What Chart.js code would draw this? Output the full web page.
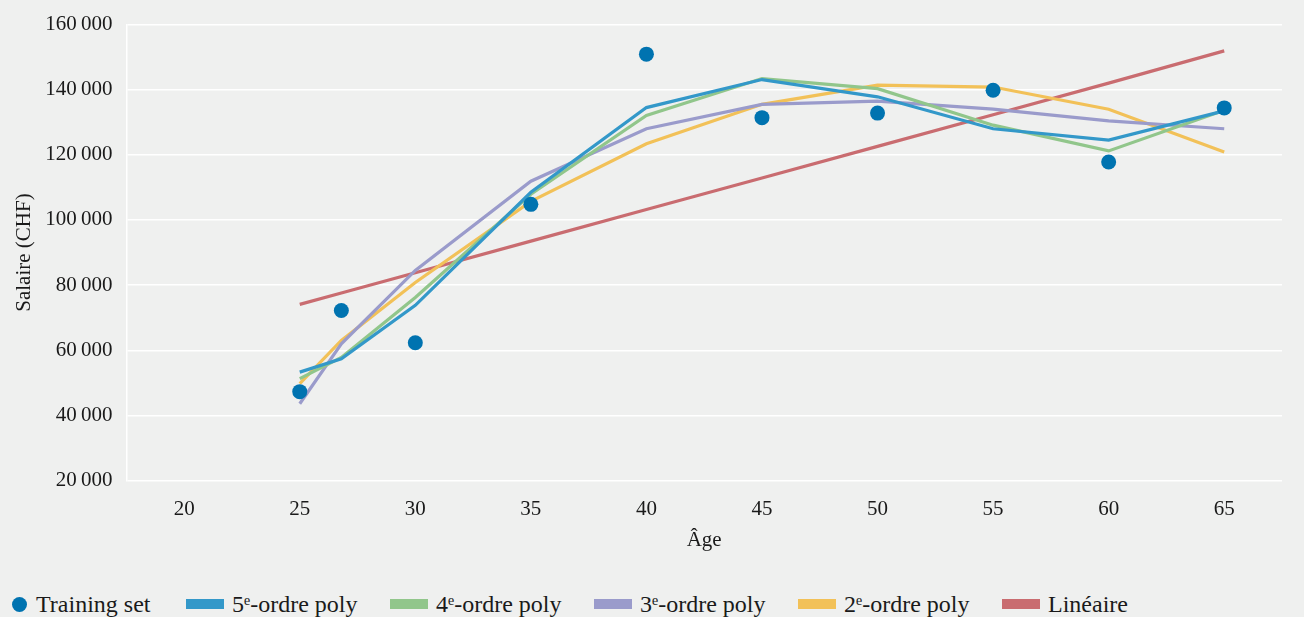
<!DOCTYPE html>
<html>
<head>
<meta charset="utf-8">
<script src="https://cdn.jsdelivr.net/npm/chart.js@4/dist/chart.umd.min.js"></script>
<style>
  body { margin: 0; background: #eff0ef; }
  #wrap { position: relative; width: 1304px; height: 617px; background: #eff0ef; font-family: 'Liberation Serif', serif; color: #1a1a1a; }
  #box { position: absolute; left: 0; top: 0; width: 1304px; height: 566px; }
  #legend { position: absolute; left: 0; top: 590px; width: 1304px; height: 28px; }
  .item { position: absolute; top: 0; height: 28px; display: flex; align-items: center; font-size: 24px; white-space: nowrap; }
  .mark { display: inline-block; margin-right: 8px; }
</style>
</head>
<body>
<div id="wrap">
  <div id="box"><canvas id="salaryChart"></canvas></div>
  <div id="legend"></div>
</div>
<script>
const ages = [25, 26.8, 30, 35, 40, 45, 50, 55, 60, 65];
const trainingSet = [47300, 72200, 62300, 104800, 150900, 131400, 132800, 139800, 117800, 134400];
const poly5 = [53300, 57400, 73800, 108500, 134500, 143100, 137800, 128000, 124500, 133500];
const poly4 = [51300, 57800, 76200, 107900, 132100, 143400, 140300, 129100, 121200, 133700];
const poly3 = [43600, 62000, 84500, 111900, 128000, 135500, 136500, 134000, 130400, 128000];
const poly2 = [49800, 63000, 80800, 105700, 123400, 135500, 141400, 140800, 134000, 120900];
const linear = [74100, 77600, 83800, 93500, 103200, 112900, 122600, 132300, 142000, 151900];
const xTicks = [20, 25, 30, 35, 40, 45, 50, 55, 60, 65];
const yTicks = [20000, 40000, 60000, 80000, 100000, 120000, 140000, 160000];

const labels = ['Training set', '5\u1D49-ordre poly', '4\u1D49-ordre poly', '3\u1D49-ordre poly', '2\u1D49-ordre poly', 'Lin\u00e9aire'];
const colors = ['#0073b0', '#3398c9', '#91c68b', '#9a9bcb', '#f2c158', '#c96c70'];
const series = [trainingSet, poly5, poly4, poly3, poly2, linear];

const toPoints = vals => ages.map((a, i) => ({ x: a, y: vals[i] }));
const fmt = v => String(v).replace(/\B(?=(\d{3})+(?!\d))/g, '\u2009');
const serif = "'Liberation Serif', serif";

const datasets = [];
// lines first in draw order, linear at the back, dots on top
for (let i = series.length - 1; i >= 1; i--) {
    datasets.push({
        label: labels[i],
        data: toPoints(series[i]),
        borderColor: colors[i],
        backgroundColor: colors[i],
        borderWidth: 3.2,
        pointRadius: 0,
        fill: false,
        tension: 0,
        order: i + 1
    });
}
datasets.push({
    label: labels[0],
    data: toPoints(series[0]),
    showLine: false,
    pointRadius: 7.5,
    pointBackgroundColor: colors[0],
    pointBorderWidth: 0,
    backgroundColor: colors[0],
    order: 0
});

const ctx = document.getElementById('salaryChart').getContext('2d');
new Chart(ctx, {
    type: 'line',
    data: { datasets: datasets },
    options: {
        responsive: true,
        maintainAspectRatio: false,
        animation: false,
        layout: { padding: { top: 12, right: 22, left: -4, bottom: 9 } },
        plugins: {
            legend: { display: false },
            tooltip: { enabled: false }
        },
        scales: {
            x: {
                type: 'linear',
                min: 17.5,
                max: 67.5,
                afterBuildTicks: axis => { axis.ticks = xTicks.map(v => ({ value: v })); },
                ticks: { color: '#1a1a1a', padding: 16, font: { family: serif, size: 21 } },
                grid: { display: false, drawTicks: false },
                border: { display: false },
                title: { display: true, text: '\u00c2ge', color: '#1a1a1a', padding: { top: -10, bottom: 4 }, font: { family: serif, size: 21 } }
            },
            y: {
                min: 20000,
                max: 160000,
                afterBuildTicks: axis => { axis.ticks = yTicks.map(v => ({ value: v })); },
                ticks: { color: '#1a1a1a', padding: 14, callback: v => fmt(v), font: { family: serif, size: 21, lineHeight: 1 } },
                grid: { color: '#ffffff', lineWidth: 1.5, drawTicks: false },
                border: { color: '#ffffff', width: 1.5 },
                title: { display: true, text: 'Salaire (CHF)', color: '#1a1a1a', padding: { top: 16, bottom: -6 }, font: { family: serif, size: 21 } }
            }
        }
    }
});

// legend
const legend = document.getElementById('legend');
labels.forEach((name, i) => {
    const item = document.createElement('div');
    item.className = 'item';
    item.style.left = (i === 0 ? 12 : 186 + 204 * (i - 1)) + 'px';
    const mark = document.createElement('span');
    mark.className = 'mark';
    if (i === 0) {
        mark.style.cssText = 'width:15px;height:15px;border-radius:50%;background:' + colors[i] + ';margin-right:9px;';
    } else {
        mark.style.cssText = 'width:38px;height:10px;background:' + colors[i] + ';';
    }
    item.appendChild(mark);
    item.appendChild(document.createTextNode(name));
    legend.appendChild(item);
});
</script>
</body>
</html>
